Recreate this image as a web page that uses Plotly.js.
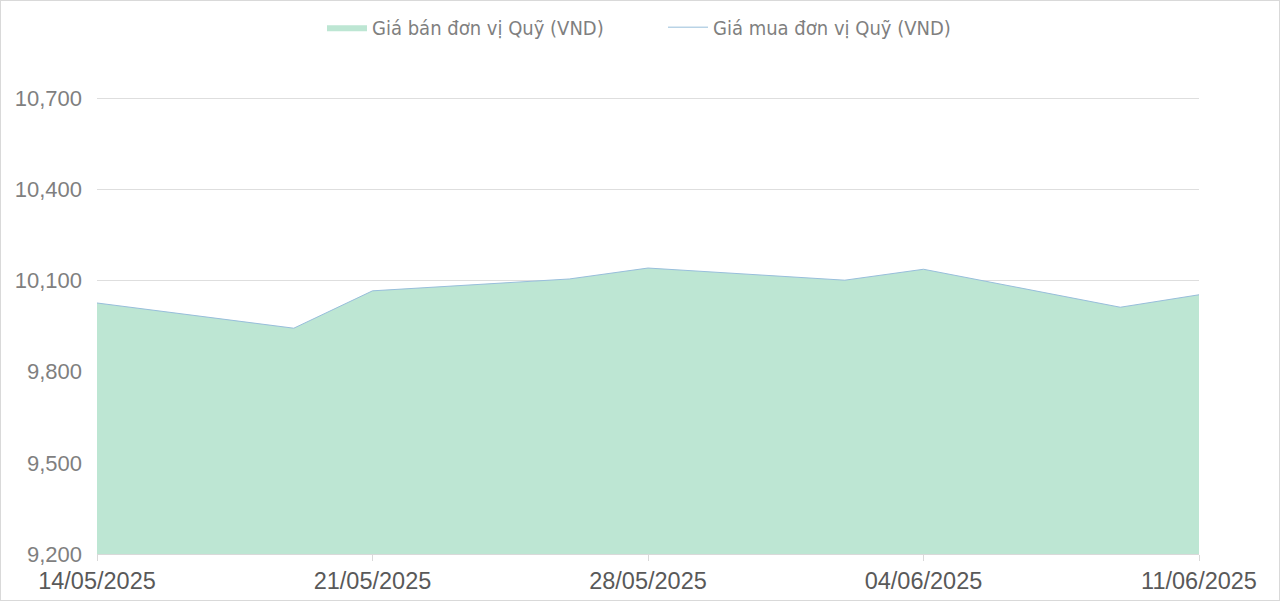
<!DOCTYPE html>
<html>
<head>
<meta charset="utf-8">
<script src="https://cdn.plot.ly/plotly-3.0.1.min.js"></script>
<style>
  html, body { margin: 0; padding: 0; background: #ffffff; }
  #chart { width: 1280px; height: 601px; box-sizing: border-box; border: 1px solid #d9d9d9; }
</style>
</head>
<body>
<div id="chart"></div>
<script>
// ─── Data ─────────────────────────────────────────────────────────────────────
const dates = ['2025-05-14', '2025-05-19', '2025-05-21', '2025-05-26', '2025-05-28',
               '2025-06-02', '2025-06-04', '2025-06-09', '2025-06-11'];
const sellPrice = [10026, 9943, 10066, 10105, 10141, 10101, 10137, 10012, 10053];
const buyPrice  = [10026, 9943, 10066, 10105, 10141, 10101, 10137, 10012, 10053];

const tickDates  = ['2025-05-14', '2025-05-21', '2025-05-28', '2025-06-04', '2025-06-11'];
const tickLabels = ['14/05/2025', '21/05/2025', '28/05/2025', '04/06/2025', '11/06/2025'];
const yTicks = [9200, 9500, 9800, 10100, 10400, 10700];

const seriesNames = ['Giá bán đơn vị Quỹ (VND)', 'Giá mua đơn vị Quỹ (VND)'];

// ─── Traces ───────────────────────────────────────────────────────────────────
const traces = [
    {
        type: 'scatter', mode: 'lines',
        x: dates, y: sellPrice,
        name: seriesNames[0],
        fill: 'tozeroy', fillcolor: '#bde6d3',
        line: { color: '#bde6d3', width: 0 },
    },
    {
        type: 'scatter', mode: 'lines',
        x: dates, y: buyPrice,
        name: seriesNames[1],
        line: { color: '#98bedb', width: 1 },
    },
];

// ─── Layout ───────────────────────────────────────────────────────────────────
const layout = {
    width: 1278, height: 599,
    paper_bgcolor: '#ffffff',
    plot_bgcolor: '#ffffff',
    font: { family: '"Liberation Sans Narrow", "DejaVu Sans Condensed", "Liberation Sans", Arial, sans-serif', color: '#7f7f7f', size: 20 },
    margin: { l: 96, r: 80, t: 92, b: 46, autoexpand: false },
    showlegend: true,
    legend: {
        orientation: 'h',
        xref: 'container', x: 0.518, xanchor: 'center',
        yref: 'container', y: 0.9563, yanchor: 'middle',
        font: { size: 20, color: '#7f7f7f' },
        itemwidth: 40, entrywidth: 286, traceorder: 'normal',
        bgcolor: 'rgba(0,0,0,0)',
    },
    xaxis: {
        type: 'date',
        range: [dates[0], dates[dates.length - 1]],
        tickvals: tickDates, ticktext: tickLabels,
        showgrid: false, zeroline: false,
        showline: true, linecolor: '#d9d9d9', linewidth: 1,
        ticks: 'outside', ticklen: 6, tickcolor: '#d9d9d9',
        tickfont: { family: '"Liberation Sans", Arial, sans-serif', size: 23.5, color: '#595959' },
    },
    yaxis: {
        range: [9200, 10717],
        tickvals: yTicks, tickformat: ',',
        showgrid: true, gridcolor: '#dedede', gridwidth: 1,
        zeroline: false, showline: false,
        ticks: '', ticklabelstandoff: 14,
        tickfont: { family: '"Liberation Sans", Arial, sans-serif', size: 22, color: '#7f7f7f' },
    },
};

Plotly.newPlot('chart', traces, layout, { displayModeBar: false, staticPlot: true });
</script>
</body>
</html>
